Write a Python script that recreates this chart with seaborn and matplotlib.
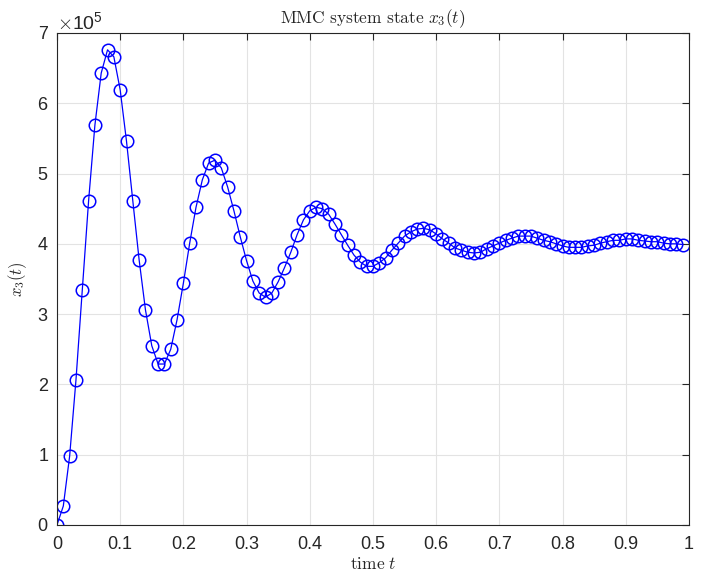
import numpy as np
import pandas as pd
import seaborn as sns
import matplotlib
matplotlib.use("Agg")
import matplotlib.pyplot as plt
from matplotlib.ticker import ScalarFormatter

# time samples and state values (x 1e5)
t = [round(0.01 * i, 2) for i in range(100)]
x3 = [0.00, 0.27, 0.98, 2.06, 3.34, 4.61, 5.69, 6.43, 6.76, 6.66,
      6.19, 5.46, 4.61, 3.77, 3.06, 2.55, 2.29, 2.29, 2.50, 2.92,
      3.44, 4.01, 4.52, 4.91, 5.15, 5.19, 5.08, 4.81, 4.47, 4.10,
      3.76, 3.47, 3.30, 3.24, 3.30, 3.46, 3.66, 3.88, 4.13, 4.34,
      4.47, 4.52, 4.50, 4.42, 4.28, 4.13, 3.98, 3.84, 3.74, 3.68,
      3.68, 3.73, 3.80, 3.91, 4.01, 4.11, 4.17, 4.21, 4.22, 4.20,
      4.14, 4.07, 4.01, 3.94, 3.91, 3.88, 3.87, 3.88, 3.93, 3.97,
      4.01, 4.05, 4.08, 4.11, 4.11, 4.11, 4.08, 4.05, 4.03, 4.00,
      3.97, 3.95, 3.95, 3.95, 3.97, 3.98, 4.01, 4.03, 4.05, 4.05,
      4.07, 4.07, 4.05, 4.04, 4.03, 4.03, 4.01, 4.00, 4.00, 3.99]
x3 = [v * 1e5 for v in x3]

df = pd.DataFrame({"t": t, "x3": x3})

sns.set_style("white")
plt.rcParams['font.family'] = ['Liberation Sans', 'DejaVu Sans']
plt.rcParams['mathtext.fontset'] = 'cm'

fig = plt.figure(figsize=(7.08, 5.78), dpi=100)
ax = fig.add_axes([0.0805, 0.0917, 0.8925, 0.8513])

sns.lineplot(data=df, x="t", y="x3", ax=ax, color="blue", lw=0.9,
             marker="o", markersize=9, markerfacecolor="none",
             markeredgecolor="blue", markeredgewidth=1.1)

ax.set_xlim(0, 1)
ax.set_ylim(0, 7e5)
ax.set_xticks(np.arange(0, 1.01, 0.1))
ax.set_xticklabels(["0", "0.1", "0.2", "0.3", "0.4", "0.5", "0.6", "0.7", "0.8", "0.9", "1"])
ax.set_yticks(np.arange(0, 7.01e5, 1e5))

fmt = ScalarFormatter(useMathText=True)
fmt.set_powerlimits((0, 0))
ax.yaxis.set_major_formatter(fmt)
ax.yaxis.get_offset_text().set_fontsize(14)
ax.yaxis.get_offset_text().set_color("#262626")

ax.grid(True, color="#e3e3e3", lw=0.8)
ax.tick_params(direction="in", top=True, right=True, length=5, width=0.8,
               labelsize=13, colors="#262626")
ax.tick_params(axis="x", pad=8)
ax.tick_params(axis="y", pad=6)
for s in ax.spines.values():
    s.set_color("#262626")
    s.set_linewidth(0.8)

ax.set_title(r"$\mathrm{MMC\ system\ state}\ x_3(t)$", fontsize=12.5, pad=7)
ax.set_xlabel(r"$\mathrm{time}\ t$", fontsize=12.5, labelpad=2)
ax.set_ylabel(r"$x_3(t)$", fontsize=12, labelpad=6)

fig.savefig("out.png", dpi=100)
